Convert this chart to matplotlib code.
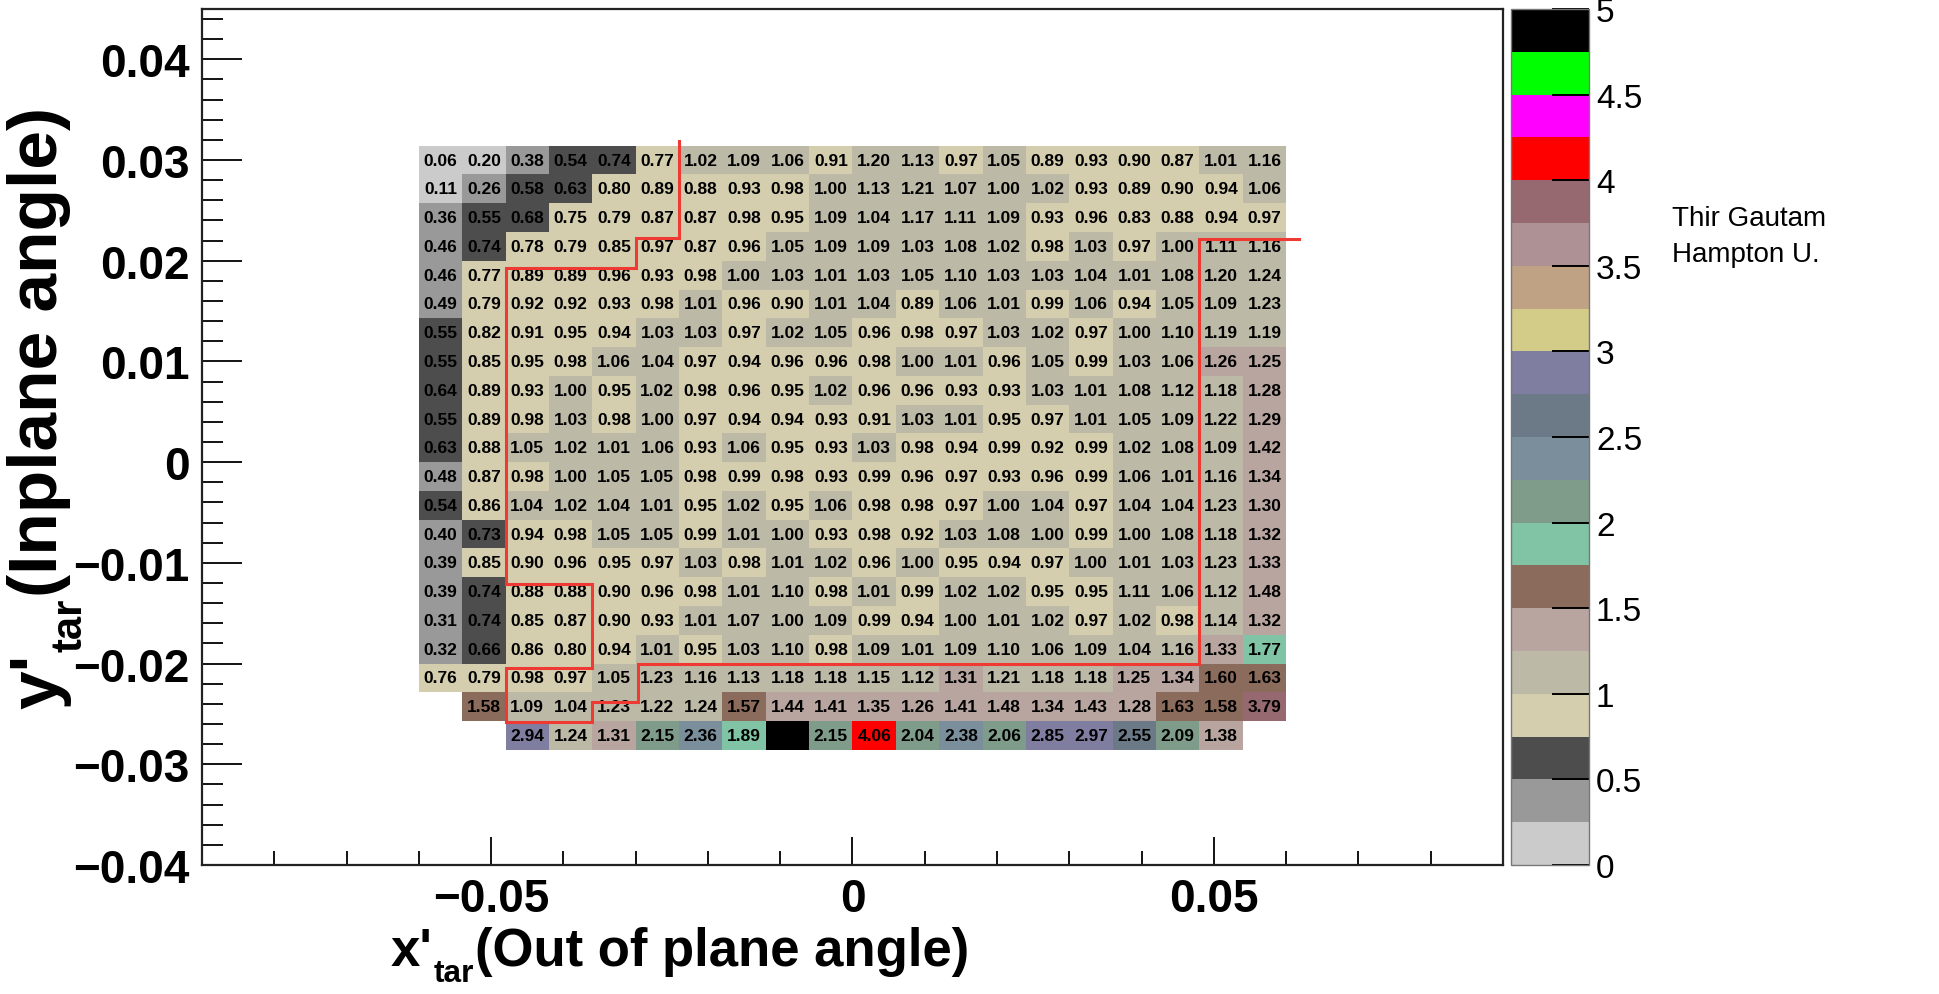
import numpy as np
import matplotlib
matplotlib.use("Agg")
import matplotlib.pyplot as plt
from matplotlib.colors import ListedColormap, BoundaryNorm
from matplotlib.ticker import MultipleLocator, FixedLocator, FuncFormatter

# ---------------------------------------------------------------------------
# Binning of the acceptance-ratio histogram
# x'_tar: 20 bins of 0.006 rad in [-0.06, 0.06]
# y'_tar: 42 bins in [-0.06, 0.06]; bins 11..31 carry entries
# ---------------------------------------------------------------------------
x_bin_lo, x_bin_hi, n_x_bins = -0.06, 0.06, 20
y_bin_lo, y_bin_hi, n_y_bins = -0.06, 0.06, 42
first_filled_ybin = 11

nan = np.nan
# ratio per bin, rows listed from the top (largest y'_tar) downwards
ratio_rows = [
    [0.06, 0.20, 0.38, 0.54, 0.74, 0.77, 1.02, 1.09, 1.06, 0.91, 1.20, 1.13, 0.97, 1.05, 0.89, 0.93, 0.90, 0.87, 1.01, 1.16],
    [0.11, 0.26, 0.58, 0.63, 0.80, 0.89, 0.88, 0.93, 0.98, 1.00, 1.13, 1.21, 1.07, 1.00, 1.02, 0.93, 0.89, 0.90, 0.94, 1.06],
    [0.36, 0.55, 0.68, 0.75, 0.79, 0.87, 0.87, 0.98, 0.95, 1.09, 1.04, 1.17, 1.11, 1.09, 0.93, 0.96, 0.83, 0.88, 0.94, 0.97],
    [0.46, 0.74, 0.78, 0.79, 0.85, 0.97, 0.87, 0.96, 1.05, 1.09, 1.09, 1.03, 1.08, 1.02, 0.98, 1.03, 0.97, 1.00, 1.11, 1.16],
    [0.46, 0.77, 0.89, 0.89, 0.96, 0.93, 0.98, 1.00, 1.03, 1.01, 1.03, 1.05, 1.10, 1.03, 1.03, 1.04, 1.01, 1.08, 1.20, 1.24],
    [0.49, 0.79, 0.92, 0.92, 0.93, 0.98, 1.01, 0.96, 0.90, 1.01, 1.04, 0.89, 1.06, 1.01, 0.99, 1.06, 0.94, 1.05, 1.09, 1.23],
    [0.55, 0.82, 0.91, 0.95, 0.94, 1.03, 1.03, 0.97, 1.02, 1.05, 0.96, 0.98, 0.97, 1.03, 1.02, 0.97, 1.00, 1.10, 1.19, 1.19],
    [0.55, 0.85, 0.95, 0.98, 1.06, 1.04, 0.97, 0.94, 0.96, 0.96, 0.98, 1.00, 1.01, 0.96, 1.05, 0.99, 1.03, 1.06, 1.26, 1.25],
    [0.64, 0.89, 0.93, 1.00, 0.95, 1.02, 0.98, 0.96, 0.95, 1.02, 0.96, 0.96, 0.93, 0.93, 1.03, 1.01, 1.08, 1.12, 1.18, 1.28],
    [0.55, 0.89, 0.98, 1.03, 0.98, 1.00, 0.97, 0.94, 0.94, 0.93, 0.91, 1.03, 1.01, 0.95, 0.97, 1.01, 1.05, 1.09, 1.22, 1.29],
    [0.63, 0.88, 1.05, 1.02, 1.01, 1.06, 0.93, 1.06, 0.95, 0.93, 1.03, 0.98, 0.94, 0.99, 0.92, 0.99, 1.02, 1.08, 1.09, 1.42],
    [0.48, 0.87, 0.98, 1.00, 1.05, 1.05, 0.98, 0.99, 0.98, 0.93, 0.99, 0.96, 0.97, 0.93, 0.96, 0.99, 1.06, 1.01, 1.16, 1.34],
    [0.54, 0.86, 1.04, 1.02, 1.04, 1.01, 0.95, 1.02, 0.95, 1.06, 0.98, 0.98, 0.97, 1.00, 1.04, 0.97, 1.04, 1.04, 1.23, 1.30],
    [0.40, 0.73, 0.94, 0.98, 1.05, 1.05, 0.99, 1.01, 1.00, 0.93, 0.98, 0.92, 1.03, 1.08, 1.00, 0.99, 1.00, 1.08, 1.18, 1.32],
    [0.39, 0.85, 0.90, 0.96, 0.95, 0.97, 1.03, 0.98, 1.01, 1.02, 0.96, 1.00, 0.95, 0.94, 0.97, 1.00, 1.01, 1.03, 1.23, 1.33],
    [0.39, 0.74, 0.88, 0.88, 0.90, 0.96, 0.98, 1.01, 1.10, 0.98, 1.01, 0.99, 1.02, 1.02, 0.95, 0.95, 1.11, 1.06, 1.12, 1.48],
    [0.31, 0.74, 0.85, 0.87, 0.90, 0.93, 1.01, 1.07, 1.00, 1.09, 0.99, 0.94, 1.00, 1.01, 1.02, 0.97, 1.02, 0.98, 1.14, 1.32],
    [0.32, 0.66, 0.86, 0.80, 0.94, 1.01, 0.95, 1.03, 1.10, 0.98, 1.09, 1.01, 1.09, 1.10, 1.06, 1.09, 1.04, 1.16, 1.33, 1.77],
    [0.76, 0.79, 0.98, 0.97, 1.05, 1.23, 1.16, 1.13, 1.18, 1.18, 1.15, 1.12, 1.31, 1.21, 1.18, 1.18, 1.25, 1.34, 1.60, 1.63],
    [nan, 1.58, 1.09, 1.04, 1.23, 1.22, 1.24, 1.57, 1.44, 1.41, 1.35, 1.26, 1.41, 1.48, 1.34, 1.43, 1.28, 1.63, 1.58, 3.79],
    [nan, nan, 2.94, 1.24, 1.31, 2.15, 2.36, 1.89, 4.93, 2.15, 4.06, 2.04, 2.38, 2.06, 2.85, 2.97, 2.55, 2.09, 1.38, nan],
]

# graphical cut drawn over the map
cut_x = [-0.024, -0.024, -0.030, -0.030, -0.048, -0.048, -0.036, -0.036, -0.048,
         -0.048, -0.036, -0.036, -0.0297, -0.0297, 0.048, 0.048, 0.0618]
cut_y = [0.0319, 0.0223, 0.0223, 0.0193, 0.0193, -0.0121, -0.0121, -0.0204, -0.0204,
         -0.0258, -0.0258, -0.0238, -0.0238, -0.0200, -0.0200, 0.0222, 0.0222]

# palette: 20 contour levels between 0 and 5
z_min, z_max, n_levels = 0.0, 5.0, 20
palette = ["#cbcbcb", "#999999", "#4d4d4d", "#d4ceae", "#bdb9a7",
           "#b9a59f", "#8b6b5b", "#80c4a5", "#7f9c8b", "#7a8f9b",
           "#6b7a86", "#7f7ea0", "#d3cb88", "#bea283", "#ae9195",
           "#966870", "#ff0000", "#ff00ff", "#00ff00", "#000000"]

x_axis_range = (-0.09, 0.09)
y_axis_range = (-0.04, 0.045)
x_major_ticks = [-0.05, 0.0, 0.05]
palette_ticks = [0, 0.5, 1, 1.5, 2, 2.5, 3, 3.5, 4, 4.5, 5]

x_title = ["x'", "tar", "(Out of plane angle)"]
y_title = ["y'", "tar", "(Inplane angle)"]
author_lines = ["Thir Gautam", "Hampton U."]

# ---------------------------------------------------------------------------
plt.rcParams["font.family"] = ["Liberation Sans", "DejaVu Sans"]
plt.rcParams["axes.unicode_minus"] = True

W, H, DPI = 1940, 995, 100
fig = plt.figure(figsize=(W / DPI, H / DPI), dpi=DPI, facecolor="white")


def fx(px):
    return px / W


def fy(py_from_top):
    return 1.0 - py_from_top / H


ax = fig.add_axes([fx(202), fy(866), fx(1503 - 202), (866 - 10) / H])
cax = fig.add_axes([fx(1511), fy(866), fx(1589 - 1511), (866 - 10) / H])

x_edges = np.linspace(x_bin_lo, x_bin_hi, n_x_bins + 1)
y_all_edges = np.linspace(y_bin_lo, y_bin_hi, n_y_bins + 1)
n_rows = len(ratio_rows)
y_edges = y_all_edges[first_filled_ybin:first_filled_ybin + n_rows + 1]

Z = np.array(ratio_rows, dtype=float)[::-1]          # bottom row first
cmap = ListedColormap(palette)
cmap.set_over(palette[-1])
levels = np.linspace(z_min, z_max, n_levels + 1)
norm = BoundaryNorm(levels, ncolors=n_levels)

mesh = ax.pcolormesh(x_edges, y_edges, np.ma.masked_invalid(Z), cmap=cmap,
                     norm=norm, shading="flat", antialiased=False,
                     edgecolors="none", zorder=1)

# bin contents printed in each cell
x_centres = 0.5 * (x_edges[:-1] + x_edges[1:])
y_centres = 0.5 * (y_edges[:-1] + y_edges[1:])
for j, yc in enumerate(y_centres):
    for i, xc in enumerate(x_centres):
        v = Z[j, i]
        if np.isfinite(v):
            ax.text(xc, yc, f"{v:.2f}", ha="center", va="center",
                    fontsize=12.5, fontweight="bold", color="black", zorder=3)

ax.plot(cut_x, cut_y, color="#ee3a32", lw=2.2, zorder=4, solid_joinstyle="miter",
        clip_on=False)

ax.set_xlim(*x_axis_range)
ax.set_ylim(*y_axis_range)


def num_label(v, pos=None):
    v = round(v, 10)
    if v == 0:
        return "0"
    s = f"{v:g}"
    return s.replace("-", "\u2212")


ax.xaxis.set_major_locator(FixedLocator(x_major_ticks))
ax.xaxis.set_minor_locator(MultipleLocator(0.01))
ax.yaxis.set_major_locator(MultipleLocator(0.01))
ax.yaxis.set_minor_locator(MultipleLocator(0.002))
ax.xaxis.set_major_formatter(FuncFormatter(num_label))
ax.yaxis.set_major_formatter(FuncFormatter(num_label))

ax.tick_params(axis="both", which="both", direction="in", top=False, right=False,
               width=1.3, color="black")
ax.tick_params(axis="x", which="major", length=20, pad=9)
ax.tick_params(axis="x", which="minor", length=10)
ax.tick_params(axis="y", which="major", length=29, pad=9)
ax.tick_params(axis="y", which="minor", length=15)
for lab in ax.get_xticklabels() + ax.get_yticklabels():
    lab.set_fontsize(33)
    lab.set_fontweight("bold")
for sp in ax.spines.values():
    sp.set_linewidth(1.6)
    sp.set_color("#222222")

# palette axis
cb = fig.colorbar(mesh, cax=cax, ticks=palette_ticks, extend="neither")
cb.ax.yaxis.set_major_formatter(FuncFormatter(num_label))
cb.ax.tick_params(which="major", direction="in", length=27, width=1.4,
                  color="black", labelsize=24, pad=5, right=True, left=False)
cb.ax.minorticks_off()
cb.outline.set_linewidth(1.0)
cb.outline.set_edgecolor("#777777")

# author note
fig.text(fx(1672), fy(226), author_lines[0], fontsize=20, ha="left", va="baseline")
fig.text(fx(1672), fy(262), author_lines[1], fontsize=20, ha="left", va="baseline")

# ---------------------------------------------------------------------------
# axis titles with subscripts, built from chained text pieces
# ---------------------------------------------------------------------------
sub_ratio = 0.6

# horizontal title
xs = 38.0
x_base = 966
xt1 = fig.text(fx(400), fy(x_base), x_title[0], fontsize=xs, fontweight="bold",
               ha="left", va="baseline")
xt2 = ax.annotate(x_title[1], xy=(1.0, fy(x_base)), xycoords=(xt1, "figure fraction"),
                  xytext=(1, -0.3 * xs), textcoords="offset points",
                  fontsize=xs * sub_ratio, fontweight="bold",
                  ha="left", va="baseline", annotation_clip=False)
xt3 = ax.annotate(x_title[2], xy=(1.0, fy(x_base)), xycoords=(xt2, "figure fraction"),
                  xytext=(1, 0), textcoords="offset points",
                  fontsize=xs, fontweight="bold",
                  ha="left", va="baseline", annotation_clip=False)

# vertical title
ys = 50.0
y_base_x = 57
yt1 = fig.text(fx(y_base_x), fy(712), y_title[0], fontsize=ys, fontweight="bold",
               rotation=90, rotation_mode="anchor", ha="left", va="baseline")
yt2 = ax.annotate(y_title[1], xy=(fx(y_base_x), 1.0), xycoords=("figure fraction", yt1),
                  xytext=(0.35 * ys, 1), textcoords="offset points",
                  fontsize=ys * sub_ratio, fontweight="bold",
                  rotation=90, rotation_mode="anchor", ha="left", va="baseline",
                  annotation_clip=False)
yt3 = ax.annotate(y_title[2], xy=(fx(y_base_x), 1.0), xycoords=("figure fraction", yt2),
                  xytext=(0, 1), textcoords="offset points",
                  fontsize=ys, fontweight="bold",
                  rotation=90, rotation_mode="anchor", ha="left", va="baseline",
                  annotation_clip=False)

# centre each title on its span
fig.canvas.draw()
r = fig.canvas.get_renderer()
bx0 = xt1.get_window_extent(r).x0
bx1 = xt3.get_window_extent(r).x1
x_centre = 680
xt1.set_x(fx(400 + (x_centre - 0.5 * (bx0 + bx1))))

by0 = yt1.get_window_extent(r).y0
by1 = yt3.get_window_extent(r).y1
y_centre_from_top = 408
shift = (H - y_centre_from_top) - 0.5 * (by0 + by1)
yt1.set_y(fy(712) + shift / H)

fig.savefig("out.png", dpi=DPI, facecolor="white")
